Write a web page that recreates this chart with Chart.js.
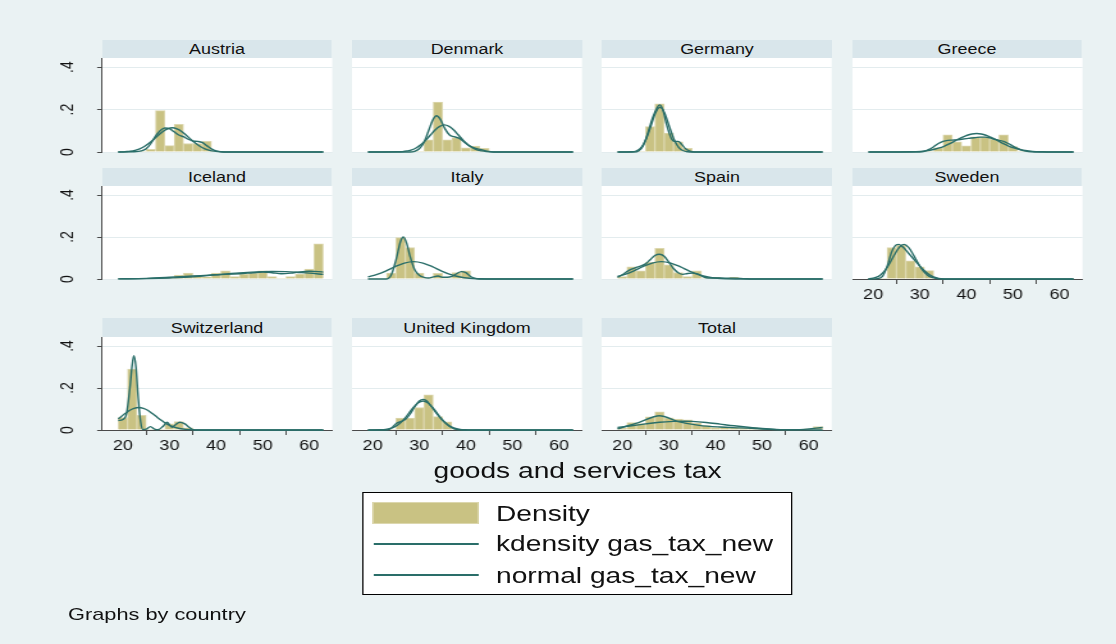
<!DOCTYPE html>
<html><head><meta charset="utf-8">
<script src="https://cdn.jsdelivr.net/npm/chart.js@4.4.1/dist/chart.umd.min.js"></script>
<style>
html,body{margin:0;padding:0;width:1116px;height:644px;overflow:hidden;background:#EAF2F3;}
#page{position:absolute;left:0;top:0;height:644px;transform-origin:0 0;font-family:"Liberation Sans",Arial,sans-serif;color:#111;}
.hdr{position:absolute;background:#D9E6EB;text-align:center;font-size:14px;white-space:nowrap;}
.txt{position:absolute;white-space:nowrap;}
canvas{position:absolute;}
</style></head><body><div id="page"></div>
<script>
// ---------------- data ----------------
const countries = ['Austria','Denmark','Germany','Greece','Iceland','Italy','Spain','Sweden','Switzerland','United Kingdom','Total'];
const binCenters = [20,22,24,26,28,30,32,34,36,38,40,42,44,46,48,50,52,54,56,58,60,62];
const xTicks = [20,30,40,50,60];
const yTicks = [0,0.2,0.4];
const yTickLabels = ['0','.2','.4'];
const legendLabels = ['Density','kdensity gas_tax_new','normal gas_tax_new'];
const xAxisTitle = 'goods and services tax';
const noteText = 'Graphs by country';

const austriaDensity = [0,0,0,0.013,0.195,0.03,0.13,0.04,0.04,0.05,0,0,0,0,0,0,0,0,0,0,0,0];
const denmarkDensity = [0,0,0,0,0,0,0.057,0.235,0.057,0.068,0.02,0.028,0.017,0,0,0,0,0,0,0,0,0];
const germanyDensity = [0,0,0,0.12,0.227,0.089,0.048,0.017,0,0,0,0,0,0,0,0,0,0,0,0,0,0];
const greeceDensity = [0,0,0,0,0,0,0,0.02,0.081,0.048,0.029,0.071,0.071,0.06,0.081,0.025,0,0,0,0,0,0];
const icelandDensity = [0,0,0,0,0,0,0.019,0.028,0.016,0.01,0.028,0.039,0.011,0.024,0.028,0.039,0.011,0,0.011,0.024,0.047,0.168];
const italyDensity = [0,0,0.028,0.197,0.15,0.028,0,0.027,0,0.031,0.039,0,0,0,0,0,0,0,0,0,0,0];
const spainDensity = [0.011,0.058,0.039,0.079,0.146,0.068,0.031,0.011,0.039,0,0.008,0,0.008,0,0,0,0,0,0,0,0,0];
const swedenDensity = [0,0,0.15,0.16,0.087,0.058,0.04,0,0,0,0,0,0,0,0,0,0,0,0,0,0,0];
const switzerlandDensity = [0.059,0.29,0.07,0,0,0.029,0.04,0.01,0,0,0,0,0,0,0,0,0,0,0,0,0,0];
const ukDensity = [0,0,0,0.057,0.057,0.107,0.167,0.064,0.039,0,0,0,0,0,0,0,0,0,0,0,0,0];
const totalDensity = [0.008,0.035,0.03,0.063,0.086,0.058,0.052,0.048,0.034,0.021,0.012,0.014,0.011,0.008,0.011,0.006,0.001,0,0.001,0.002,0.005,0.016];

const austriaKde = [[19,0],[22,0.001],[24,0.005],[25,0.015],[26,0.04],[27,0.075],[28,0.1],[29,0.113],[30,0.11],[31,0.095],[32,0.08],[33,0.072],[34,0.06],[35,0.052],[36,0.05],[37,0.045],[38,0.03],[39,0.015],[40,0.005],[41,0.001],[43,0],[63,0]];
const austriaNormal = [[19,0],[20.6,0.002],[21.6,0.004],[22.6,0.008],[23.6,0.015],[24.6,0.026],[25.6,0.041],[26.6,0.059],[27.6,0.079],[28.6,0.097],[29.6,0.109],[30.6,0.114],[31.6,0.109],[32.6,0.097],[33.6,0.079],[34.6,0.059],[35.6,0.041],[36.6,0.026],[37.6,0.015],[38.6,0.008],[39.6,0.004],[40.6,0.002],[42,0],[63,0]];
const denmarkKde = [[19,0],[28,0],[29,0.003],[30,0.015],[31,0.045],[32,0.1],[33,0.155],[33.7,0.171],[34.5,0.155],[35.5,0.11],[36.5,0.08],[37.5,0.072],[38.5,0.065],[39.5,0.05],[40.5,0.032],[41.5,0.022],[42.5,0.015],[43.5,0.01],[44.5,0.004],[46,0],[63,0]];
const denmarkNormal = [[19,0],[25.4,0.001],[26.4,0.002],[27.4,0.005],[28.4,0.01],[29.4,0.02],[30.4,0.035],[31.4,0.056],[32.4,0.08],[33.4,0.104],[34.4,0.121],[35.4,0.128],[36.4,0.121],[37.4,0.104],[38.4,0.08],[39.4,0.056],[40.4,0.035],[41.4,0.02],[42.4,0.01],[43.4,0.005],[44.4,0.002],[46,0],[63,0]];
const germanyKde = [[19,0],[22.5,0],[23.5,0.005],[24.5,0.03],[25.5,0.09],[26.5,0.16],[27.5,0.21],[28,0.222],[28.7,0.2],[29.5,0.13],[30.5,0.065],[31.3,0.05],[32,0.05],[32.8,0.035],[33.6,0.015],[34.5,0.004],[35.5,0],[63,0]];
const germanyNormal = [[19,0],[22.1,0.001],[23.1,0.006],[24.1,0.022],[25.1,0.06],[26.1,0.12],[27.1,0.183],[28.1,0.211],[29.1,0.183],[30.1,0.12],[31.1,0.06],[32.1,0.022],[33.1,0.006],[34.1,0.001],[35,0],[63,0]];
const greeceKde = [[19,0],[30,0],[31,0.003],[32,0.012],[33,0.025],[34,0.04],[35,0.05],[36,0.055],[37,0.056],[38,0.057],[39,0.06],[40,0.063],[41,0.066],[42,0.068],[43,0.07],[44,0.07],[45,0.067],[46,0.06],[47,0.055],[48,0.05],[49,0.04],[50,0.028],[51,0.017],[52,0.008],[53,0.003],[54,0.001],[55,0],[63,0]];
const greeceNormal = [[19,0],[28.2,0.001],[30.2,0.003],[32.2,0.008],[34.2,0.019],[35.2,0.027],[36.2,0.037],[37.2,0.048],[38.2,0.06],[39.2,0.07],[40.2,0.079],[41.2,0.085],[42.2,0.087],[43.2,0.085],[44.2,0.079],[45.2,0.07],[46.2,0.06],[47.2,0.048],[48.2,0.037],[49.2,0.027],[50.2,0.019],[52.2,0.008],[54.2,0.003],[56.2,0.001],[58,0],[63,0]];
const icelandKde = [[19,0.0005],[25,0.003],[30,0.008],[35,0.014],[40,0.02],[45,0.025],[48,0.03],[50,0.033],[52,0.03],[54,0.025],[56,0.028],[58,0.034],[60,0.037],[62,0.035],[63,0.033]];
const icelandNormal = [[19,0.0005],[25,0.002],[30,0.005],[35,0.01],[40,0.02],[45,0.029],[50,0.035],[52,0.036],[55,0.035],[58,0.031],[60,0.028],[63,0.022]];
const italyKde = [[19,0],[23,0],[24,0.02],[25,0.09],[26,0.18],[26.6,0.2],[27.3,0.17],[28,0.11],[29,0.045],[30,0.018],[31,0.008],[32,0.005],[33,0.01],[34,0.014],[35,0.008],[36,0.008],[37,0.012],[38,0.025],[39,0.035],[40,0.03],[41,0.012],[42,0.003],[43,0],[63,0]];
const italyNormal = [[19,0.01],[20.8,0.021],[22.8,0.038],[24.8,0.059],[26.8,0.076],[28.8,0.083],[30.8,0.076],[32.8,0.059],[34.8,0.038],[36.8,0.021],[38.8,0.0095],[40.8,0.0036],[42.8,0.0012],[44.8,0.0003],[47,0],[63,0]];
const spainKde = [[19,0.008],[20,0.02],[21,0.035],[22,0.047],[23,0.055],[24,0.062],[25,0.072],[26,0.092],[27,0.112],[28,0.118],[29,0.108],[30,0.08],[31,0.05],[32,0.03],[33,0.022],[34,0.026],[35,0.028],[36,0.026],[37,0.015],[38,0.006],[39,0.004],[40,0.005],[42,0.004],[44,0.004],[46,0.002],[48,0],[63,0]];
const spainNormal = [[19,0.012],[20.4,0.021],[22.4,0.038],[24.4,0.059],[26.4,0.076],[28.4,0.083],[30.4,0.076],[32.4,0.059],[34.4,0.038],[36.4,0.021],[38.4,0.0095],[40.4,0.0036],[42.4,0.0012],[44.4,0.0003],[47,0],[63,0]];
const swedenKde = [[19,0],[21,0.002],[22,0.012],[23,0.06],[24,0.13],[25,0.163],[25.5,0.165],[26.5,0.15],[27.5,0.125],[28.5,0.1],[29.5,0.075],[30.5,0.05],[31.5,0.03],[32.5,0.015],[33.5,0.006],[34.5,0.001],[36,0],[63,0]];
const swedenNormal = [[19,0.001],[19.6,0.0025],[20.6,0.0077],[21.6,0.0195],[22.6,0.042],[23.6,0.077],[24.6,0.117],[25.6,0.151],[26.6,0.165],[27.6,0.151],[28.6,0.117],[29.6,0.077],[30.6,0.042],[31.6,0.0195],[32.6,0.0077],[33.6,0.0025],[34.6,0.0007],[36,0],[63,0]];
const switzerlandKde = [[19,0.045],[20,0.05],[20.8,0.08],[21.5,0.2],[22,0.31],[22.35,0.354],[22.8,0.3],[23.3,0.15],[23.8,0.04],[24.3,0.002],[25,0.004],[25.9,0.016],[26.8,0.004],[27.5,0.001],[28.5,0.015],[29.5,0.037],[30.5,0.013],[31.3,0.025],[32.2,0.037],[33.2,0.03],[34.3,0.012],[35,0.002],[36,0],[63,0]];
const switzerlandNormal = [[19,0.053],[20.4,0.077],[21.4,0.093],[22.4,0.103],[23.4,0.107],[24.4,0.103],[25.4,0.093],[26.4,0.077],[27.4,0.06],[28.4,0.044],[29.4,0.029],[30.4,0.018],[31.4,0.011],[32.4,0.0058],[33.4,0.0029],[35.4,0.0006],[37,0],[63,0]];
const ukKde = [[19,0],[23,0],[24,0.008],[25,0.03],[26,0.04],[27,0.05],[28,0.075],[29,0.11],[30,0.138],[30.8,0.146],[31.5,0.14],[32.5,0.115],[33.5,0.085],[34.5,0.058],[35.5,0.035],[36.5,0.017],[37.5,0.006],[38.5,0.001],[40,0],[63,0]];
const ukNormal = [[19,0],[21.8,0.0011],[22.8,0.003],[23.8,0.0075],[24.8,0.016],[25.8,0.031],[26.8,0.053],[27.8,0.081],[28.8,0.109],[29.8,0.13],[30.8,0.138],[31.8,0.13],[32.8,0.109],[33.8,0.081],[34.8,0.053],[35.8,0.031],[36.8,0.016],[37.8,0.0075],[38.8,0.003],[39.8,0.0011],[41,0],[63,0]];
const totalKde = [[19,0.006],[23.5,0.035],[28,0.068],[32,0.04],[36.5,0.022],[41,0.014],[45.5,0.01],[50,0.005],[54.5,0.001],[59,0.003],[63,0.012]];
const totalNormal = [[19,0.012],[22,0.02],[25,0.029],[28,0.037],[31,0.041],[33,0.042],[35,0.041],[38,0.036],[41,0.028],[44,0.02],[47,0.013],[50,0.007],[53,0.003],[56,0.0015],[59,0.0005],[63,0.0001]];

const densities = [austriaDensity,denmarkDensity,germanyDensity,greeceDensity,icelandDensity,italyDensity,spainDensity,swedenDensity,switzerlandDensity,ukDensity,totalDensity];
const kdes = [austriaKde,denmarkKde,germanyKde,greeceKde,icelandKde,italyKde,spainKde,swedenKde,switzerlandKde,ukKde,totalKde];
const normals = [austriaNormal,denmarkNormal,germanyNormal,greeceNormal,icelandNormal,italyNormal,spainNormal,swedenNormal,switzerlandNormal,ukNormal,totalNormal];

// ---------------- layout / style ----------------
const S = 1.28;                // horizontal stretch of the reference image
const X_MIN = 15.57, X_MAX = 64.93, Y_MAX = 0.443;
const colLeft = [102,352,602,852], PANEL_W = 230;
const hdrTop = [40,168,318], plotTop = [58,186,337], plotBot = [152,279,430];
const BAR_FILL = '#C9C283', BAR_EDGE = '#DCD7AE', LINE = '#2A6E69', AXIS = '#4a4a4a', GRID = '#E3ECEE';
const FONT = '"Liberation Sans", Arial, sans-serif';

const page = document.getElementById('page');
page.style.width = (1116 / S) + 'px';
page.style.transform = 'scaleX(' + S + ')';

const plotBg = {
  id: 'plotBg',
  beforeDraw(chart) {
    const a = chart.chartArea, ctx = chart.ctx;
    ctx.save(); ctx.fillStyle = '#ffffff'; ctx.fillRect(a.left, a.top, a.right - a.left, a.bottom - a.top); ctx.restore();
  }
};

function addText(text, x, top, size, extra) {
  const d = document.createElement('div');
  d.className = 'txt'; d.textContent = text;
  d.style.left = (x / S) + 'px'; d.style.top = top + 'px';
  d.style.fontSize = size + 'px'; d.style.lineHeight = size + 'px';
  if (extra) Object.assign(d.style, extra);
  page.appendChild(d);
  return d;
}

countries.forEach((name, k) => {
  const col = k < 8 ? k % 4 : k - 8;
  const row = k < 8 ? Math.floor(k / 4) : 2;
  const showY = col === 0;
  const showX = row === 2 || name === 'Sweden';

  const h = document.createElement('div');
  h.className = 'hdr'; h.textContent = name;
  const hh = plotTop[row] - hdrTop[row];
  h.style.left = (colLeft[col] / S) + 'px'; h.style.top = hdrTop[row] + 'px';
  h.style.width = (PANEL_W / S) + 'px'; h.style.height = hh + 'px'; h.style.lineHeight = (hh + 1) + 'px';
  page.appendChild(h);

  const pad = 8, yW = showY ? 60 / S : 0, xH = showX ? 28 : 0;
  const plotW = PANEL_W / S, plotH = plotBot[row] - plotTop[row];
  const cv = document.createElement('canvas');
  cv.width = Math.ceil(plotW + yW + 2 * pad); cv.height = plotH + xH + 2 * pad;
  cv.style.width = cv.width + 'px'; cv.style.height = cv.height + 'px';
  cv.style.left = (colLeft[col] / S - yW - pad) + 'px';
  cv.style.top = (plotTop[row] - pad) + 'px';
  page.appendChild(cv);
  const padR = cv.width - pad - yW - plotW;

  new Chart(cv, {
    type: 'bar',
    data: {
      datasets: [
        { type: 'line', data: normals[k].map(p => ({x: p[0], y: p[1]})), borderColor: LINE, borderWidth: 1.4,
          pointRadius: 0, cubicInterpolationMode: 'monotone', clip: false, order: 0 },
        { type: 'line', data: kdes[k].map(p => ({x: p[0], y: p[1]})), borderColor: LINE, borderWidth: 1.4,
          pointRadius: 0, cubicInterpolationMode: 'monotone', clip: false, order: 1 },
        { type: 'bar', data: binCenters.map((x, i) => ({x: x, y: densities[k][i]})),
          backgroundColor: BAR_FILL, borderColor: BAR_EDGE,
          borderWidth: c => (c.raw && c.raw.y > 0) ? 1 : 0, borderSkipped: 'bottom',
          barPercentage: 1, categoryPercentage: 1, order: 2 }
      ]
    },
    options: {
      responsive: false, animation: false, devicePixelRatio: 1, events: [],
      layout: { padding: { left: pad, right: padR, top: pad, bottom: pad } },
      plugins: { legend: { display: false }, tooltip: { enabled: false } },
      scales: {
        x: {
          type: 'linear', min: X_MIN, max: X_MAX, offset: false, display: showX,
          afterBuildTicks: s => { s.ticks = xTicks.map(v => ({value: v})); },
          afterFit: s => { s.height = xH; s.paddingLeft = 0; s.paddingRight = 0; },
          grid: { drawOnChartArea: false, drawTicks: true, tickLength: 5, tickColor: AXIS, color: AXIS },
          border: { display: true, color: AXIS, width: 1 },
          ticks: { padding: 3, maxRotation: 0, minRotation: 0, autoSkip: false, color: '#111',
                   font: { family: FONT, size: 14 }, callback: v => String(v) }
        },
        y: {
          type: 'linear', min: 0, max: Y_MAX, display: true,
          afterBuildTicks: s => { s.ticks = yTicks.map(v => ({value: v})); },
          afterFit: s => { s.width = yW; s.paddingTop = 0; s.paddingBottom = 0; },
          grid: { color: GRID, lineWidth: 1, drawTicks: showY, tickLength: 4, tickColor: AXIS },
          border: { display: showY, color: AXIS, width: 1 },
          ticks: { display: showY, minRotation: 90, maxRotation: 90, crossAlign: 'center', padding: 17,
                   autoSkip: false, color: '#111', font: { family: FONT, size: 14 },
                   callback: v => yTickLabels[yTicks.indexOf(v)] }
        }
      }
    },
    plugins: [plotBg]
  });
});

// axis title
addText(xAxisTitle, 577.5, 460.4, 22, { transform: 'translateX(-50%)' });

// legend
const lg = document.createElement('div');
Object.assign(lg.style, { position: 'absolute', left: (361.7 / S) + 'px', top: '491.7px',
  width: ((792.7 - 361.7) / S) + 'px', height: '103.3px', background: '#fff', border: '1px solid #000', boxSizing: 'border-box' });
page.appendChild(lg);
const sw = document.createElement('div');
Object.assign(sw.style, { position: 'absolute', left: (372.7 / S) + 'px', top: '501.7px', width: ((479.3 - 372.7) / S) + 'px',
  height: '22.6px', background: BAR_FILL, border: '1px solid ' + BAR_EDGE, boxSizing: 'border-box' });
page.appendChild(sw);
[544, 575].forEach(y => {
  const l = document.createElement('div');
  Object.assign(l.style, { position: 'absolute', left: (374 / S) + 'px', top: (y - 0.75) + 'px', width: ((478.3 - 374) / S) + 'px',
    height: '1.5px', background: LINE });
  page.appendChild(l);
});
addText(legendLabels[0], 496, 503.1, 22);
addText(legendLabels[1], 496, 533.1, 22);
addText(legendLabels[2], 496, 564.7, 22);

// note
addText(noteText, 68, 605.6, 17);
</script></body></html>
